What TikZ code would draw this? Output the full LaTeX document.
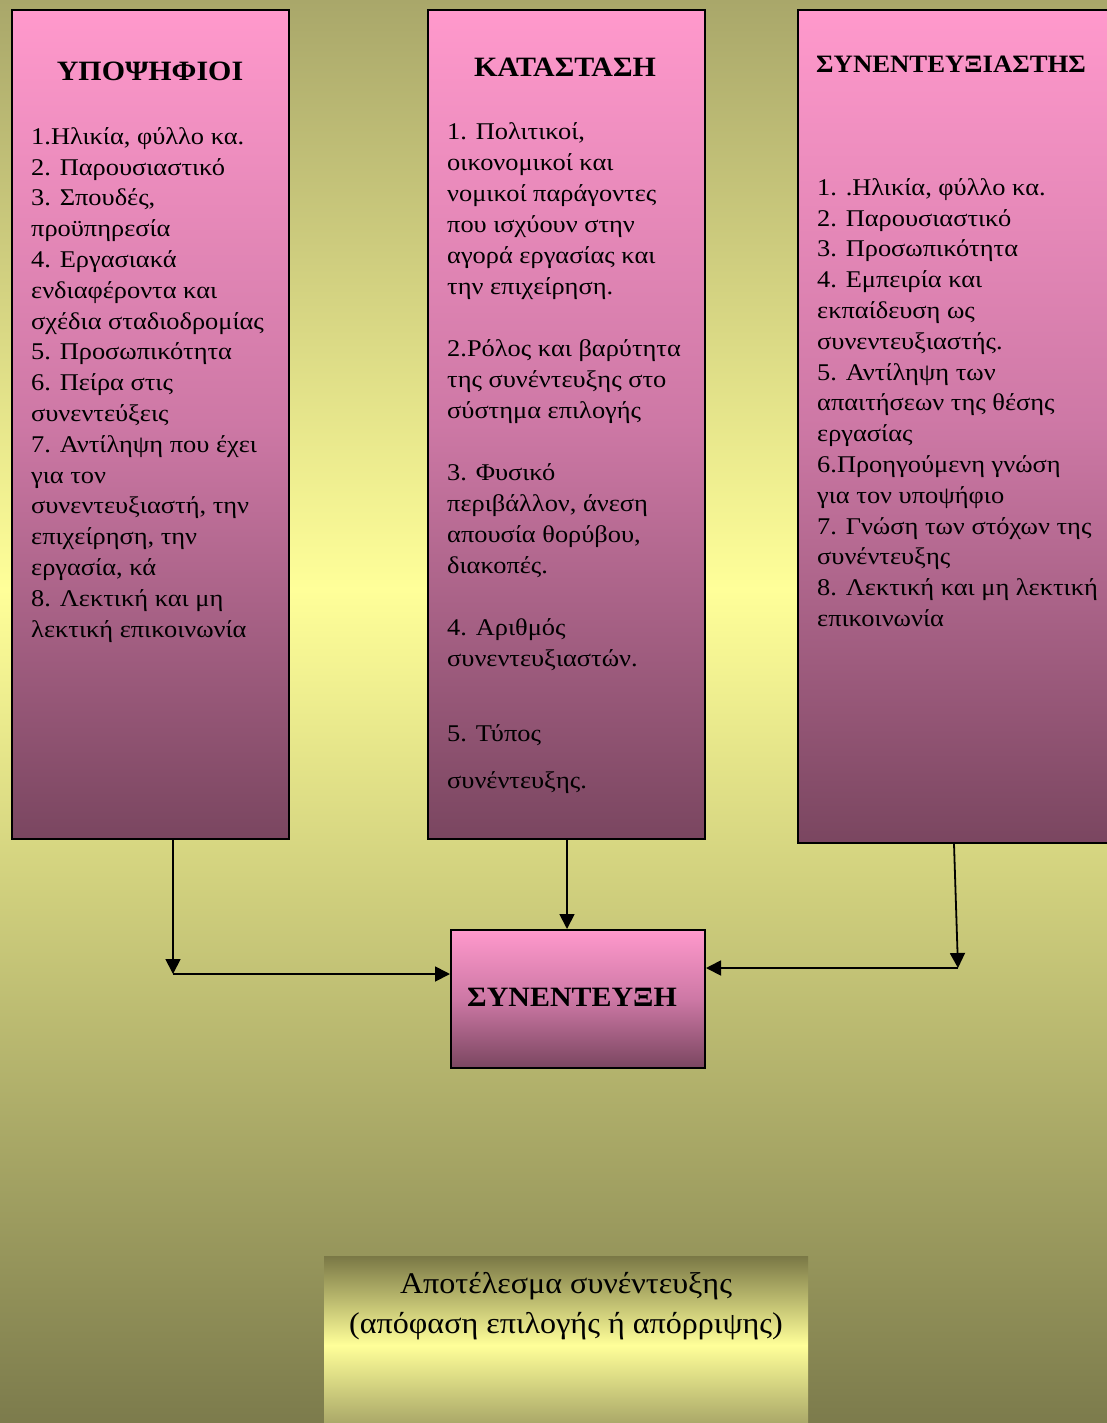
\documentclass[tikz,border=0pt]{standalone}
\usepackage{fontspec}
\setmainfont{Liberation Serif}
\newfontfamily\bodyfnt[FakeStretch=1.1]{Liberation Serif}
\newfontfamily\ttlfnt[FakeStretch=1.07]{Liberation Serif}
\usetikzlibrary{arrows.meta}
\definecolor{bgtop}{RGB}{169,167,106}
\definecolor{bgmid}{RGB}{255,255,153}
\definecolor{bgbot}{RGB}{124,123,76}
\definecolor{pktop}{RGB}{255,153,204}
\definecolor{pkmid}{RGB}{205,120,165}
\definecolor{pkbot}{RGB}{122,70,96}
\definecolor{rstop}{RGB}{122,120,70}
\definecolor{rsbot}{RGB}{158,156,98}
\tikzset{
  pinkbox/.style={draw=black, line width=2pt, rectangle, inner sep=0pt, anchor=north west,
    top color=pktop, bottom color=pkbot, middle color=pkmid},
  boxtitle/.style={font=\ttlfnt\fontsize{28}{32}\selectfont\bfseries, inner sep=0pt},
  body/.style={font=\bodyfnt\fontsize{24}{30.8}\selectfont, align=left, inner sep=0pt, anchor=north west},
  conn/.style={line width=1.8pt, -{Triangle[length=15pt,width=15pt]}},
}
\begin{document}
\begin{tikzpicture}[x=1pt,y=-1pt]
\useasboundingbox (0,0) rectangle (1107,1423);
\clip (0,0) rectangle (1107,1423);
% background
\fill[top color=bgtop, bottom color=bgmid] (0,0) rectangle (1107,590);
\fill[top color=bgmid, bottom color=bgbot] (0,589) rectangle (1107,1423);

% boxes
\node[pinkbox, minimum width=277pt, minimum height=829pt] (cand) at (11,9) {};
\node[pinkbox, minimum width=277pt, minimum height=829pt] (sit) at (427,9) {};
\node[pinkbox, minimum width=323pt, minimum height=833pt] (intv) at (797,9) {};
\node[pinkbox, minimum width=254pt, minimum height=138pt] (iv) at (450,929) {};
\node[rectangle, inner sep=0pt, anchor=north west, minimum width=484pt, minimum height=178pt,
  top color=rstop, bottom color=rsbot, middle color=bgmid] (res) at (324,1256) {};

% titles
\node[boxtitle, anchor=base] (t1) at (150,81) {ΥΠΟΨΗΦΙΟΙ};
\node[boxtitle, anchor=base] (t2) at (565,77) {ΚΑΤΑΣΤΑΣΗ};
\node[boxtitle, font=\ttlfnt\fontsize{25}{30}\selectfont\bfseries, anchor=base west] (t3) at (816,73) {ΣΥΝΕΝΤΕΥΞΙΑΣΤΗΣ};
\node[boxtitle, anchor=base] (t4) at (572,1006) {ΣΥΝΕΝΤΕΥΞΗ};

% body texts
\node[body] (b1) at (31,122) {\rule{0pt}{22pt}1.Ηλικία, φύλλο κα.\\
2. Παρουσιαστικό\\
3. Σπουδές,\\
προϋπηρεσία\\
4. Εργασιακά\\
ενδιαφέροντα και\\
σχέδια σταδιοδρομίας\\
5. Προσωπικότητα\\
6. Πείρα στις\\
συνεντεύξεις\\
7. Αντίληψη που έχει\\
για τον\\
συνεντευξιαστή, την\\
επιχείρηση, την\\
εργασία, κά\\
8. Λεκτική και μη\\
λεκτική επικοινωνία};

\node[body, font=\bodyfnt\fontsize{24}{31}\selectfont] (b2) at (447,117) {\rule{0pt}{22pt}1. Πολιτικοί,\\
οικονομικοί και\\
νομικοί παράγοντες\\
που ισχύουν στην\\
αγορά εργασίας και\\
την επιχείρηση.\\[31pt]
2.Ρόλος και βαρύτητα\\
της συνέντευξης στο\\
σύστημα επιλογής\\[31pt]
3. Φυσικό\\
περιβάλλον, άνεση\\
απουσία θορύβου,\\
διακοπές.\\[31pt]
4. Αριθμός\\
συνεντευξιαστών.\\[44pt]
5. Τύπος\\[16pt]
συνέντευξης.};

\node[body] (b3) at (817,173) {\rule{0pt}{22pt}1. .Ηλικία, φύλλο κα.\\
2. Παρουσιαστικό\\
3. Προσωπικότητα\\
4. Εμπειρία και\\
εκπαίδευση ως\\
συνεντευξιαστής.\\
5. Αντίληψη των\\
απαιτήσεων της θέσης\\
εργασίας\\
6.Προηγούμενη γνώση\\
για τον υποψήφιο\\
7. Γνώση των στόχων της\\
συνέντευξης\\
8. Λεκτική και μη λεκτική\\
επικοινωνία};

\node[font=\ttlfnt\fontsize{30}{40}\selectfont, align=center, inner sep=0pt, anchor=north] (rt) at (566,1268)
  {\rule{0pt}{25pt}Αποτέλεσμα συνέντευξης\\(απόφαση επιλογής ή απόρριψης)};

% connectors
\coordinate (j1) at (173,974);
\coordinate (j3) at (958,968);
\draw[conn] (cand.south -| j1) -- (j1);
\draw[conn] (j1) -- (j1 -| iv.west);
\draw[conn] ([xshift=0.5pt]sit.south) -- ([xshift=0.5pt]sit.south |- iv.north);
\draw[conn] ([xshift=-5.5pt]intv.south) -- (j3);
\draw[conn] (j3) -- (j3 -| iv.east);
\end{tikzpicture}
\end{document}
